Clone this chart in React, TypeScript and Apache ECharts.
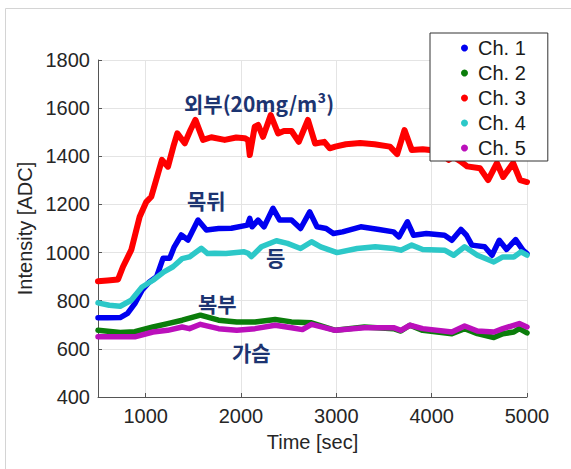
import React, { useEffect, useRef } from "react";
import * as echarts from "echarts";

const seriesNames = ["Ch. 1", "Ch. 2", "Ch. 3", "Ch. 4", "Ch. 5"];
const xTicks = [1000, 2000, 3000, 4000, 5000];

const ch1X = [500, 600, 733, 810, 886, 962, 1039, 1115, 1182, 1252, 1300, 1374, 1444, 1549, 1637, 1765, 1899, 2067, 2092, 2116, 2179, 2242, 2336, 2406, 2530, 2625, 2721, 2797, 2893, 2969, 3065, 3256, 3447, 3600, 3657, 3745, 3810, 3944, 4135, 4212, 4307, 4365, 4422, 4556, 4633, 4709, 4786, 4881, 4957, 5000];
const ch1Y = [729, 729, 730, 747, 788, 844, 878, 900, 976, 976, 1024, 1073, 1052, 1135, 1094, 1100, 1101, 1114, 1142, 1107, 1135, 1107, 1184, 1135, 1135, 1100, 1169, 1107, 1100, 1079, 1086, 1107, 1096, 1086, 1065, 1128, 1072, 1079, 1072, 1051, 1096, 1072, 1031, 1024, 989, 1051, 1013, 1054, 1010, 996];

const ch2X = [500, 733, 886, 1077, 1230, 1383, 1574, 1765, 1956, 2147, 2358, 2530, 2740, 2989, 3294, 3600, 3677, 3772, 3906, 4212, 4346, 4480, 4652, 4747, 4862, 4919, 5000];
const ch2Y = [677, 668, 671, 691, 705, 719, 740, 719, 712, 712, 722, 712, 708, 677, 691, 684, 674, 698, 677, 663, 684, 663, 647, 663, 670, 684, 666];

const ch3X = [500, 600, 710, 762, 849, 937, 1007, 1059, 1130, 1171, 1234, 1290, 1332, 1410, 1470, 1522, 1602, 1688, 1829, 1950, 2039, 2075, 2092, 2144, 2180, 2231, 2312, 2389, 2450, 2530, 2606, 2702, 2778, 2874, 2931, 2989, 3100, 3250, 3400, 3562, 3638, 3715, 3791, 3906, 3983, 4100, 4176, 4228, 4300, 4372, 4508, 4592, 4684, 4750, 4855, 4928, 5000];
const ch3Y = [881, 884, 888, 941, 1011, 1149, 1211, 1232, 1329, 1385, 1357, 1440, 1495, 1454, 1509, 1551, 1468, 1479, 1468, 1478, 1475, 1467, 1405, 1523, 1530, 1481, 1571, 1495, 1505, 1505, 1460, 1551, 1453, 1460, 1433, 1440, 1450, 1455, 1450, 1440, 1409, 1509, 1426, 1429, 1426, 1420, 1385, 1398, 1380, 1358, 1350, 1301, 1372, 1314, 1372, 1301, 1293];

const ch4X = [500, 618, 733, 848, 962, 1077, 1192, 1287, 1383, 1459, 1584, 1650, 1724, 1842, 2033, 2074, 2109, 2214, 2371, 2487, 2625, 2740, 2836, 3008, 3218, 3409, 3600, 3677, 3791, 3906, 4135, 4231, 4346, 4480, 4652, 4747, 4862, 4938, 5000];
const ch4Y = [791, 781, 777, 802, 857, 885, 920, 941, 975, 982, 1018, 996, 997, 996, 1003, 997, 983, 1024, 1049, 1038, 1017, 1045, 1024, 1000, 1017, 1024, 1017, 1010, 1031, 1013, 1010, 989, 1024, 989, 961, 982, 982, 1003, 989];

const ch5X = [500, 886, 1077, 1230, 1383, 1459, 1574, 1765, 1956, 2147, 2358, 2530, 2644, 2740, 2989, 3294, 3600, 3677, 3772, 3906, 4212, 4346, 4480, 4652, 4747, 4919, 5000];
const ch5Y = [650, 650, 670, 677, 691, 684, 702, 684, 677, 684, 698, 688, 680, 702, 677, 688, 688, 677, 698, 684, 670, 695, 674, 670, 684, 705, 691];

const colors = ["#0000f0", "#0b7d0b", "#ff0000", "#2cc8c8", "#bb10bb"];
const xs = [ch1X, ch2X, ch3X, ch4X, ch5X];
const ys = [ch1Y, ch2Y, ch3Y, ch4Y, ch5Y];

const annotations = [
  { text: "외부(20mg/m³)", x: 184, y: 103 },
  { text: "목뒤", x: 187, y: 200 },
  { text: "등", x: 266, y: 257 },
  { text: "복부", x: 198, y: 303 },
  { text: "가슴", x: 232, y: 352 },
];

const FONT = "'Liberation Sans', Arial, Helvetica, sans-serif";

export default function App() {
  const ref = useRef<HTMLDivElement>(null);
  useEffect(() => {
    const chart = echarts.init(ref.current!, null, { renderer: "svg" });
    chart.setOption({
      animation: false,
      backgroundColor: "#ffffff",
      grid: { left: 98, right: 44, top: 60, bottom: 72, containLabel: false },
      xAxis: {
        type: "value",
        min: 500,
        max: 5000,
        name: "Time [sec]",
        nameLocation: "middle",
        nameGap: 35,
        nameTextStyle: { fontSize: 20, color: "#262626", fontFamily: FONT },
        axisLine: { show: true, lineStyle: { color: "#555", width: 1 } },
        axisTick: { show: true, inside: true, length: 4, customValues: xTicks, lineStyle: { color: "#555" } },
        axisLabel: { customValues: xTicks, fontSize: 20, color: "#262626", fontFamily: FONT, margin: 9, formatter: (v: number) => String(v) },
        splitLine: { show: true, lineStyle: { color: "#e4e4e4", width: 1 } },
      },
      yAxis: {
        type: "value",
        min: 400,
        max: 1800,
        interval: 200,
        name: "Intensity [ADC]",
        nameLocation: "middle",
        nameGap: 44,
        nameTextStyle: { fontSize: 20, color: "#262626", fontFamily: FONT },
        axisLine: { show: true, lineStyle: { color: "#555", width: 1 } },
        axisTick: { show: true, inside: true, length: 4, lineStyle: { color: "#555" } },
        axisLabel: { fontSize: 20, color: "#262626", fontFamily: FONT, margin: 8, formatter: (v: number) => String(v) },
        splitLine: { show: true, lineStyle: { color: "#e4e4e4", width: 1 } },
      },
      legend: {
        orient: "vertical",
        left: 430,
        top: 33,
        padding: [5, 22, 3, 31],
        itemWidth: 7,
        itemHeight: 7,
        itemGap: 5,
        icon: "circle",
        backgroundColor: "#ffffff",
        borderColor: "#333",
        borderWidth: 1,
        borderRadius: 0,
        textStyle: { fontSize: 20, lineHeight: 20, color: "#1a1a1a", fontFamily: FONT, padding: [0, 0, 0, 5] },
        data: seriesNames,
      },
      graphic: [
        {
          type: "rect",
          shape: { x: 5.5, y: 8.5, width: 700, height: 700 },
          style: { fill: "none", stroke: "#d4d4d4", lineWidth: 1 },
          silent: true,
        },
        ...annotations.map((a) => ({
          type: "text",
          x: a.x,
          y: a.y,
          z: 100,
          style: {
            text: a.text,
            fill: "#1c3471",
            fontSize: 21,
            fontWeight: "bold",
            fontFamily: "'Noto Sans CJK KR', 'Noto Sans', sans-serif",
            verticalAlign: "middle",
            align: "left",
          },
        })),
      ],
      series: seriesNames.map((name, i) => ({
        name,
        type: "line",
        showSymbol: false,
        symbol: "circle",
        color: colors[i],
        data: xs[i].map((x, k) => [x, ys[i][k]]),
        lineStyle: { width: i === 2 ? 6 : 5.5, color: colors[i], cap: "round", join: "round" },
        itemStyle: { color: colors[i] },
      })),
    });
    return () => chart.dispose();
  }, []);
  return <div ref={ref} style={{ width: 571, height: 469, position: "absolute", left: 0, top: 0 }} />;
}
